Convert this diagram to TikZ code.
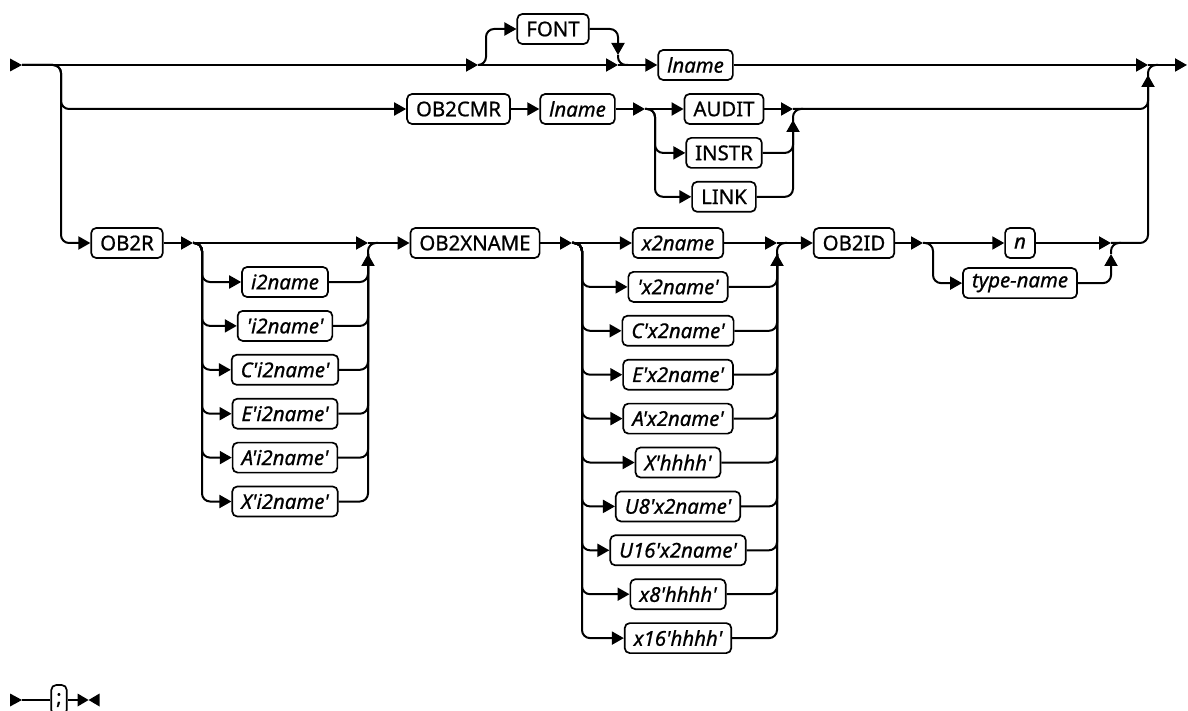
\documentclass[tikz,border=0pt]{standalone}
\usepackage{fontspec}
\setmainfont{Noto Sans}[Ligatures=TeXOff, FakeBold=0.8]
\usepackage{tikz}
\usetikzlibrary{arrows.meta, positioning, calc}
\tikzset{
    kw/.style={
        rectangle, draw=black, line width=0.85pt, rounded corners=2.5pt,
        minimum height=15pt, inner xsep=4.5pt, inner ysep=0pt,
        font=\fontsize{10.2}{12}\selectfont,
    },
    var/.style={kw, font=\fontsize{10.2}{12}\selectfont\itshape},
    track/.style={line width=1pt, rounded corners=4pt},
    feed/.style={track, -{Triangle[length=6pt,width=6.5pt]}},
}

\begin{document}
\begin{tikzpicture}[x=0.5pt, y=-0.5pt, node distance=6.1pt]

    \useasboundingbox (0,0) rectangle (1188,711);

    % junction points
    \coordinate (start) at (22,65);
    \coordinate (f1) at (478,65);
    \coordinate (j1) at (618,65);
    \coordinate (e1) at (1148,65);
    \coordinate (fin) at (1187,65);
    \coordinate (s2) at (645,109);
    \coordinate (m2) at (793,109);
    \coordinate (s3) at (193,243);
    \coordinate (m3) at (368,243);
    \coordinate (s4) at (572,243);
    \coordinate (m4) at (777,243);
    \coordinate (s5) at (923,243);
    \coordinate (m5) at (1111,243);

    % first line
    \node[kw] (font) at (553,29) {FONT};
    \node[var] (lname1) at (695.5,65) {lname};

    \node[kw] (cmr) at (458.5,109) {OB2CMR};
    \node[var] (lname2) at (577.5,109) {lname};
    \node[kw] (audit) at (724,109) {AUDIT};
    \node[kw, below=of audit] (instr) {INSTR};
    \node[kw, below=of instr] (link) {LINK};

    \node[kw] (ob2r) at (127,243) {OB2R};
    \node[var] (i2a) at (285,282) {i2name};
    \node[var, below=of i2a] (i2b) {'i2name'};
    \node[var, below=of i2b] (i2c) {C'i2name'};
    \node[var, below=of i2c] (i2d) {E'i2name'};
    \node[var, below=of i2d] (i2e) {A'i2name'};
    \node[var, below=of i2e] (i2f) {X'i2name'};

    \node[kw] (oxn) at (475,243) {OB2XNAME};
    \node[var] (x2a) at (678,243) {x2name};
    \node[var, below=of x2a] (x2b) {'x2name'};
    \node[var, below=of x2b] (x2c) {C'x2name'};
    \node[var, below=of x2c] (x2d) {E'x2name'};
    \node[var, below=of x2d] (x2e) {A'x2name'};
    \node[var, below=of x2e] (x2f) {X'hhhh'};
    \node[var, below=of x2f] (x2g) {U8'x2name'};
    \node[var, below=of x2g] (x2h) {U16'x2name'};
    \node[var, below=of x2h] (x2i) {x8'hhhh'};
    \node[var, below=of x2i] (x2j) {x16'hhhh'};

    \node[kw] (ob2id) at (854,243) {OB2ID};
    \node[var] (idn) at (1020,243) {n};
    \node[var, below=4.2pt of idn] (tname) {type-name};

    % second line
    \coordinate (start2) at (22,700);
    \node[kw, inner xsep=2.5pt] (semi) at (59,700) {;};

    % rails, first branch
    \fill (start) -- ++(-12,-6.5) -- ++(0,13) -- cycle;
    \draw[feed] (start) -- (f1);
    \draw[feed] (f1) -- ++(8,0) |- (font.west);
    \draw[feed] (font.east) -| ($(j1)+(0,-10)$);
    \draw[track] ($(j1)+(0,-10)$) |- ($(j1)+(10,0)$);
    \draw[feed] (f1) -- (j1);
    \draw[feed] (j1) -- (lname1.west);
    \draw[feed] (lname1.east) -- (e1);
    \draw[feed] (e1) -- (fin);

    % OB2CMR branch
    \draw[feed] (start) -- ++(39,0) |- (cmr.west);
    \draw[feed] (cmr.east) -- (lname2.west);
    \draw[feed] (lname2.east) -- (s2);
    \draw[feed] (s2) -- (audit.west);
    \draw[feed] (s2) -- ++(10,0) |- (instr.west);
    \draw[feed] (s2) -- ++(10,0) |- (link.west);
    \draw[feed] (audit.east) -- (m2);
    \draw[track] (instr.east) -| ($(m2)+(0,11)$);
    \draw[feed] (link.east) -| ($(m2)+(0,11)$);
    \draw[track] ($(m2)+(0,11)$) |- ($(m2)+(10,0)$);
    \draw[track] (m2) -| ($(e1)+(0,10)$);

    % OB2R branch
    \draw[feed] (start) -- ++(39,0) |- (ob2r.west);
    \draw[feed] (ob2r.east) -- (s3);
    \draw[feed] (s3) -- (m3);
    \draw[feed] (s3) -- ++(9,0) |- (i2a.west);
    \draw[feed] (s3) -- ++(9,0) |- (i2b.west);
    \draw[feed] (s3) -- ++(9,0) |- (i2c.west);
    \draw[feed] (s3) -- ++(9,0) |- (i2d.west);
    \draw[feed] (s3) -- ++(9,0) |- (i2e.west);
    \draw[feed] (s3) -- ++(9,0) |- (i2f.west);
    \draw[track] (i2a.east) -| ($(m3)+(0,11)$);
    \draw[track] (i2b.east) -| ($(m3)+(0,11)$);
    \draw[track] (i2c.east) -| ($(m3)+(0,11)$);
    \draw[track] (i2d.east) -| ($(m3)+(0,11)$);
    \draw[track] (i2e.east) -| ($(m3)+(0,11)$);
    \draw[feed] (i2f.east) -| ($(m3)+(0,11)$);
    \draw[track] ($(m3)+(0,11)$) |- ($(m3)+(10,0)$);

    \draw[feed] (m3) -- (oxn.west);
    \draw[feed] (oxn.east) -- (s4);
    \draw[feed] (s4) -- (x2a.west);
    \draw[feed] (s4) -- ++(10,0) |- (x2b.west);
    \draw[feed] (s4) -- ++(10,0) |- (x2c.west);
    \draw[feed] (s4) -- ++(10,0) |- (x2d.west);
    \draw[feed] (s4) -- ++(10,0) |- (x2e.west);
    \draw[feed] (s4) -- ++(10,0) |- (x2f.west);
    \draw[feed] (s4) -- ++(10,0) |- (x2g.west);
    \draw[feed] (s4) -- ++(10,0) |- (x2h.west);
    \draw[feed] (s4) -- ++(10,0) |- (x2i.west);
    \draw[feed] (s4) -- ++(10,0) |- (x2j.west);
    \draw[feed] (x2a.east) -- (m4);
    \draw[track] (x2b.east) -| ($(m4)+(0,11)$);
    \draw[track] (x2c.east) -| ($(m4)+(0,11)$);
    \draw[track] (x2d.east) -| ($(m4)+(0,11)$);
    \draw[track] (x2e.east) -| ($(m4)+(0,11)$);
    \draw[track] (x2f.east) -| ($(m4)+(0,11)$);
    \draw[track] (x2g.east) -| ($(m4)+(0,11)$);
    \draw[track] (x2h.east) -| ($(m4)+(0,11)$);
    \draw[track] (x2i.east) -| ($(m4)+(0,11)$);
    \draw[feed] (x2j.east) -| ($(m4)+(0,11)$);
    \draw[track] ($(m4)+(0,11)$) |- ($(m4)+(10,0)$);

    \draw[feed] (m4) -- (ob2id.west);
    \draw[feed] (ob2id.east) -- (s5);
    \draw[feed] (s5) -- (idn.west);
    \draw[feed] (s5) -- ++(10,0) |- (tname.west);
    \draw[feed] (idn.east) -- (m5);
    \draw[feed] (tname.east) -| ($(m5)+(0,11)$);
    \draw[track] ($(m5)+(0,11)$) |- ($(m5)+(10,0)$);
    \draw[feed] (m5) -| ($(e1)+(0,10)$);
    \draw[track] ($(e1)+(0,10)$) |- ($(e1)+(10,0)$);

    % terminator line
    \fill (start2) -- ++(-12,-6.5) -- ++(0,13) -- cycle;
    \draw[track] (start2) -- (semi.west);
    \draw[track] (semi.east) -- ++(10,0) coordinate (stop);
    \fill (stop) ++(0,-6.5) -- ++(11,6.5) -- ++(-11,6.5) -- cycle;
    \fill (stop) ++(11,0) -- ++(11,-6.5) -- ++(0,13) -- cycle;

\end{tikzpicture}
\end{document}
